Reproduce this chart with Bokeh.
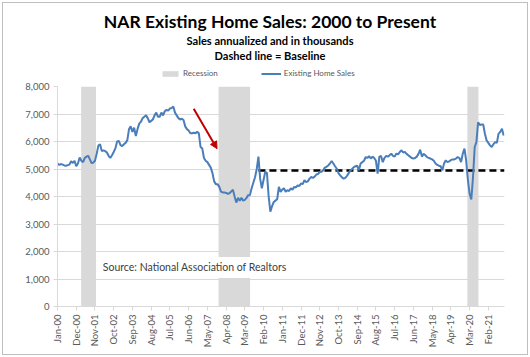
from bokeh.plotting import figure
from bokeh.layouts import column
from bokeh.models import (Range1d, Label, Legend, LegendItem, Arrow, NormalHead,
                          FixedTicker, NumeralTickFormatter)
from bokeh.embed import file_html
from bokeh.resources import INLINE
from math import pi, nan

# ---------------- data ----------------
# monthly existing home sales (thousands, SAAR), index 0 = Jan-2000
sales = [
    5200, 5150, 5180, 5160, 5130, 5120, 5140, 5160, 5280, 5220, 5300, 5100,   # 2000
    5200, 5420, 5300, 5250, 5400, 5450, 5480, 5350, 5220, 5230, 5300, 5550,   # 2001
    5850, 5900, 5650, 5680, 5650, 5600, 5480, 5400, 5500, 5620, 5750, 6000,   # 2002
    6020, 5870, 5830, 5900, 5950, 6050, 6450, 6550, 6350, 6500, 6200, 6450,   # 2003
    6650, 6720, 6850, 6900, 6950, 6850, 6700, 6750, 6800, 6950, 7050, 6900,   # 2004
    6900, 7050, 6950, 7100, 7150, 7120, 7200, 7220, 7270, 7050, 6950, 6850,   # 2005
    6800, 6830, 6780, 6550, 6450, 6400, 6300, 6300, 6320, 6300, 6350, 6300,   # 2006
    5800, 5750, 5400, 5300, 5250, 5150, 5050, 4850, 4550, 4450, 4450, 4350,   # 2007
    4180, 4150, 4150, 4130, 4100, 4120, 4180, 4250, 4000, 3780, 3950, 3850,   # 2008
    3950, 3850, 3880, 3950, 4050, 4050, 4300, 4500, 4700, 5000, 5450, 4650,   # 2009
    4300, 4600, 4900, 4850, 4000, 3450, 3650, 3800, 3850, 3900, 4350, 4170,   # 2010
    4250, 4300, 4170, 4230, 4200, 4300, 4250, 4350, 4330, 4400, 4380, 4470,   # 2011
    4450, 4590, 4520, 4550, 4650, 4710, 4680, 4720, 4800, 4820, 4890, 4900,   # 2012
    4950, 5050, 5080, 5130, 5200, 5290, 5200, 5100, 5010, 4850, 4770, 4700,   # 2013
    4650, 4680, 4750, 4850, 4950, 5000, 5070, 5100, 5120, 4950, 5200, 5250,   # 2014
    5300, 5435, 5400, 5470, 5380, 5450, 5400, 5300, 4830, 5450, 5470, 5250,   # 2015
    5400, 5480, 5450, 5500, 5560, 5480, 5450, 5560, 5530, 5620, 5680, 5600,   # 2016
    5620, 5550, 5500, 5450, 5400, 5375, 5400, 5450, 5550, 5700, 5450, 5550,   # 2017
    5500, 5435, 5400, 5380, 5350, 5300, 5200, 5150, 5120, 5100, 4950, 5200,   # 2018
    5315, 5250, 5280, 5320, 5350, 5350, 5380, 5435, 5400, 5250, 5560, 5740,   # 2019
    5300, 4600, 4100, 3890, 4700, 5800, 5980, 6700, 6600, 6620, 6620, 6280,   # 2020
    6040, 5950, 5860, 5800, 5900, 5980, 5950, 6280, 6350, 6460, 6220,         # 2021
]
month_index = list(range(len(sales)))

tick_positions = [0, 11, 22, 33, 44, 55, 66, 77, 88, 99, 110, 121,
                  132, 143, 154, 165, 176, 187, 198, 209, 220, 231, 242, 253]
tick_labels = ["Jan-00", "Dec-00", "Nov-01", "Oct-02", "Sep-03", "Aug-04", "Jul-05",
               "Jun-06", "May-07", "Apr-08", "Mar-09", "Feb-10", "Jan-11", "Dec-11",
               "Nov-12", "Oct-13", "Sep-14", "Aug-15", "Jul-16", "Jun-17", "May-18",
               "Apr-19", "Mar-20", "Feb-21"]

recession_start = [13.9, 94.6, 240.7]
recession_end = [22.6, 113.1, 247.2]

baseline_value = 4950
baseline_start = 118
baseline_end = 262.5

arrow_start = (80, 7190)
arrow_end = (93.7, 5740)

source_box = (23.2, 137, 1040, 1800)   # left, right, bottom, top (data units)

y_ticks = [0, 1000, 2000, 3000, 4000, 5000, 6000, 7000, 8000]

title_text = "NAR Existing Home Sales: 2000 to Present"
subtitle_text = "Sales annualized and in thousands"
note_text = "Dashed line = Baseline"
source_text = "Source: National Association of Realtors"

# ---------------- styles ----------------
FONT = "Lato"
TXT = "#595959"
GRID = "#d9d9d9"
BLUE = "#4a7ebb"
REC = "#d9d9d9"
W = 530
HEAD_H = 80

# ---------------- header (titles + legend) ----------------
head = figure(width=W, height=HEAD_H, output_backend="svg", toolbar_location=None,
              x_range=Range1d(0, W), y_range=Range1d(HEAD_H, 0),
              x_axis_location=None, y_axis_location=None,
              min_border=0, min_border_left=0, min_border_right=0,
              min_border_top=0, min_border_bottom=0)
head.outline_line_color = None
head.background_fill_color = None
head.border_fill_color = None
head.grid.visible = False

for txt, yy, size in [(title_text, 21, "17.5px"), (subtitle_text, 40, "11.1px"),
                      (note_text, 55, "11.1px")]:
    head.add_layout(Label(x=252, y=yy, text=txt, text_font=FONT, text_font_size=size,
                          text_font_style="bold", text_color="black",
                          text_align="center", text_baseline="middle"))

# legend swatches: renderers without visible geometry (NaN), only used by the legend
leg_rec = head.quad(left=[nan], right=[nan], bottom=[nan], top=[nan],
                    fill_color=REC, line_color=None)
leg_line = head.line(x=[nan], y=[nan], line_color=BLUE, line_width=2)
legend = Legend(items=[LegendItem(label="Recession", renderers=[leg_rec]),
                       LegendItem(label="Existing Home Sales", renderers=[leg_line])],
                location=(103, 0), orientation="horizontal",
                border_line_alpha=0, background_fill_alpha=0,
                label_text_font=FONT, label_text_font_size="8px", label_text_color=TXT,
                glyph_width=20, glyph_height=7, label_standoff=3, spacing=43,
                padding=0, margin=0, label_height=14)
head.add_layout(legend)

# ---------------- main chart ----------------
p = figure(width=W, height=357 - HEAD_H, output_backend="svg", toolbar_location=None,
           x_range=Range1d(0, 262.5), y_range=Range1d(0, 8000),
           min_border_left=57, min_border_right=26, min_border_top=6, min_border_bottom=51)
p.outline_line_color = None
p.background_fill_color = "white"
p.border_fill_color = None

rec = p.quad(left=recession_start, right=recession_end, bottom=[0] * 3, top=[8000] * 3,
             fill_color=REC, line_color=None)

p.quad(left=[source_box[0]], right=[source_box[1]], bottom=[source_box[2]], top=[source_box[3]],
       fill_color="white", line_color=None)
p.add_layout(Label(x=source_box[0] + 3.4, y=(source_box[2] + source_box[3]) / 2,
                   text=source_text,
                   text_font=FONT, text_font_size="10.5px", text_color="#404040",
                   text_baseline="middle"))

p.line(x=[baseline_start, baseline_end], y=[baseline_value, baseline_value],
       line_color="black", line_width=2.5, line_dash="7 4")

ln = p.line(x=month_index, y=sales, line_color=BLUE, line_width=2)

p.add_layout(Arrow(end=NormalHead(size=7, fill_color="#c00000", line_color="#c00000"),
                   x_start=arrow_start[0], y_start=arrow_start[1],
                   x_end=arrow_end[0], y_end=arrow_end[1],
                   line_color="#c00000", line_width=2))

p.xaxis.ticker = FixedTicker(ticks=tick_positions)
p.xaxis.major_label_overrides = {t: l for t, l in zip(tick_positions, tick_labels)}
p.xaxis.major_label_orientation = pi / 2
p.yaxis.ticker = FixedTicker(ticks=y_ticks)
p.yaxis.formatter = NumeralTickFormatter(format="0,0")
for ax in (p.xaxis, p.yaxis):
    ax.axis_line_color = GRID
    ax.major_tick_line_color = GRID
    ax.major_tick_out = 4
    ax.major_tick_in = 0
    ax.minor_tick_line_color = None
    ax.major_label_text_font = FONT
    ax.major_label_text_font_size = "9.5px"
    ax.major_label_text_color = TXT
    ax.major_label_standoff = 4
p.xgrid.grid_line_color = None
p.ygrid.grid_line_color = GRID

layout = column(head, p, spacing=0,
                styles={"outline": "1px solid #bfbfbf", "outline-offset": "-3px"})

open("out.html", "w").write(file_html(layout, INLINE))
